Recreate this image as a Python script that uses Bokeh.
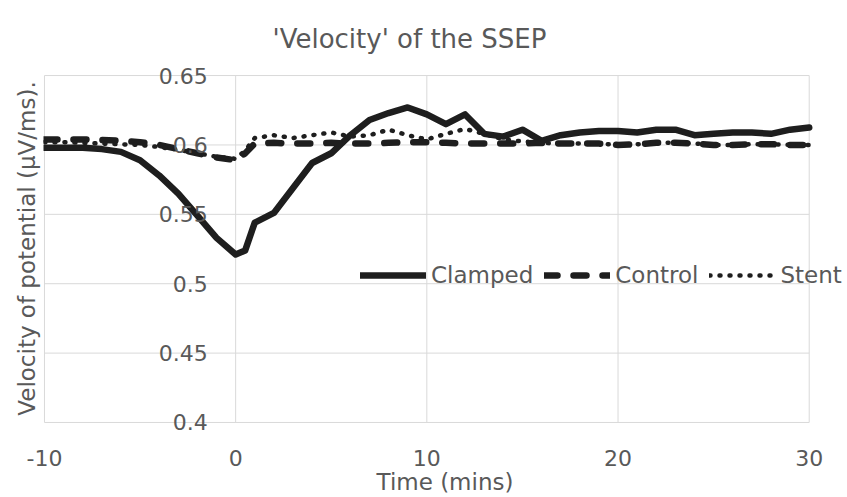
from bokeh.plotting import figure
from bokeh.models import (ColumnDataSource, Range1d, FixedTicker, Legend, LegendItem, Label)
from bokeh.embed import file_html
from bokeh.resources import INLINE

# ---- data ----
time_min = [-10, -9, -8, -7, -6, -5, -4, -3, -2, -1, 0, 0.5, 1, 2, 3, 4, 5, 6, 7, 8, 9, 10,
            11, 12, 13, 14, 15, 16, 17, 18, 19, 20, 21, 22, 23, 24, 25, 26, 27, 28, 29, 30]
clamped = [0.598, 0.598, 0.598, 0.597, 0.595, 0.589, 0.578, 0.565, 0.549, 0.533, 0.521, 0.524,
           0.544, 0.551, 0.569, 0.587, 0.594, 0.607, 0.618, 0.623, 0.627, 0.622,
           0.615, 0.622, 0.608, 0.606, 0.611, 0.603, 0.607, 0.609, 0.610, 0.610, 0.609, 0.611,
           0.611, 0.607, 0.608, 0.609, 0.609, 0.608, 0.611, 0.6125]
control = [0.604, 0.604, 0.604, 0.6035, 0.603, 0.602, 0.600, 0.597, 0.594, 0.591, 0.589, 0.594,
           0.601, 0.6015, 0.601, 0.601, 0.6015, 0.601, 0.601, 0.6015, 0.602, 0.602,
           0.6015, 0.601, 0.601, 0.601, 0.601, 0.6015, 0.601, 0.601, 0.601, 0.600, 0.6005, 0.6015,
           0.6015, 0.601, 0.600, 0.600, 0.6005, 0.6005, 0.600, 0.600]
stent = [0.602, 0.602, 0.6015, 0.601, 0.6005, 0.600, 0.5985, 0.5965, 0.594, 0.5915, 0.590, 0.596,
         0.605, 0.607, 0.605, 0.607, 0.609, 0.606, 0.607, 0.611, 0.607, 0.604,
         0.608, 0.6115, 0.608, 0.604, 0.6025, 0.6015, 0.601, 0.601, 0.601, 0.600, 0.6005, 0.6015,
         0.6015, 0.601, 0.600, 0.600, 0.6005, 0.6005, 0.600, 0.600]
x_ticks = [-10, 0, 10, 20, 30]
x_tick_labels = ["-10", "0", "10", "20", "30"]
y_ticks = [0.4, 0.45, 0.5, 0.55, 0.6, 0.65]
y_tick_labels = ["0.4", "0.45", "0.5", "0.55", "0.6", "0.65"]

FONT = "DejaVu Sans"
GREY = "#595959"
GRID = "#d9d9d9"
INK = "#1e1e1e"

# the frame is a little larger than the chart area so that edge labels and the legend are not clipped
p = figure(width=847, height=497,
           x_range=Range1d(-10.05, 31.95), y_range=Range1d(0.3935, 0.65725),
           output_backend="svg", toolbar_location=None,
           min_border_left=43, min_border_right=1, min_border_top=65, min_border_bottom=50,
           title="'Velocity' of the SSEP")
p.outline_line_color = None
p.background_fill_color = "white"
p.border_fill_color = "white"
p.grid.visible = False

p.title.text_font = FONT
p.title.text_font_size = "26px"
p.title.text_font_style = "normal"
p.title.text_color = GREY
p.title.align = "left"
p.title.offset = 229
p.title.standoff = 24

# gridlines bounded to the chart area (tick ranges)
p.segment(x0=x_ticks, y0=[y_ticks[0]] * len(x_ticks), x1=x_ticks, y1=[y_ticks[-1]] * len(x_ticks),
          line_color=GRID, line_width=1, level="underlay")
p.segment(x0=[x_ticks[0]] * len(y_ticks), y0=y_ticks, x1=[x_ticks[-1]] * len(y_ticks), y1=y_ticks,
          line_color=GRID, line_width=1, level="underlay")

# x axis
p.xaxis.ticker = FixedTicker(ticks=x_ticks)
p.xaxis.major_label_overrides = dict(zip(x_ticks, x_tick_labels))
p.xaxis.major_tick_out = 0
p.xaxis.major_tick_in = 0
p.xaxis.minor_tick_line_color = None
p.xaxis.axis_line_color = None
p.xaxis.major_label_text_font = FONT
p.xaxis.major_label_text_font_size = "22px"
p.xaxis.major_label_text_color = GREY
p.xaxis.major_label_standoff = 18
p.xaxis.axis_label = "Time (mins)"
p.xaxis.axis_label_text_font = FONT
p.xaxis.axis_label_text_font_size = "23px"
p.xaxis.axis_label_text_font_style = "normal"
p.xaxis.axis_label_text_color = GREY
p.xaxis.axis_label_standoff = 0

# y axis: title only; tick labels drawn at the x=0 crossing
p.yaxis.ticker = FixedTicker(ticks=[])
p.yaxis.major_tick_out = 0
p.yaxis.major_tick_in = 0
p.yaxis.minor_tick_line_color = None
p.yaxis.axis_line_color = None
p.yaxis.major_label_standoff = 0
p.yaxis.axis_label = "Velocity of potential (\u00b5V/ms)."
p.yaxis.axis_label_text_font = FONT
p.yaxis.axis_label_text_font_size = "23px"
p.yaxis.axis_label_text_font_style = "normal"
p.yaxis.axis_label_text_color = GREY
p.yaxis.axis_label_standoff = 4

for yt, lab in zip(y_ticks, y_tick_labels):
    p.add_layout(Label(x=0, y=yt, text=lab, x_offset=-28,
                       text_align="right", text_baseline="middle",
                       text_font=FONT, text_font_size="22px", text_color=GREY))

src = ColumnDataSource(dict(t=time_min, clamped=clamped, control=control, stent=stent))
r1 = p.line("t", "clamped", source=src, line_color=INK, line_width=6.5,
            line_join="round", line_cap="round")
r2 = p.line("t", "control", source=src, line_color=INK, line_width=6.5,
            line_dash="13 16", line_join="round", line_cap="round")
r3 = p.line("t", "stent", source=src, line_color=INK, line_width=4.5,
            line_dash="1 9", line_join="round", line_cap="round")

legend = Legend(items=[LegendItem(label="Clamped", renderers=[r1]),
                       LegendItem(label="Control", renderers=[r2]),
                       LegendItem(label="Stent", renderers=[r3])],
                orientation="horizontal", location=(317, 143),
                glyph_width=66, glyph_height=20, label_standoff=5, spacing=11,
                padding=0, margin=0, border_line_color=None, background_fill_alpha=0,
                label_text_font=FONT, label_text_font_size="23px", label_text_color=GREY)
p.add_layout(legend)

open("out.html", "w").write(file_html(p, INLINE))
